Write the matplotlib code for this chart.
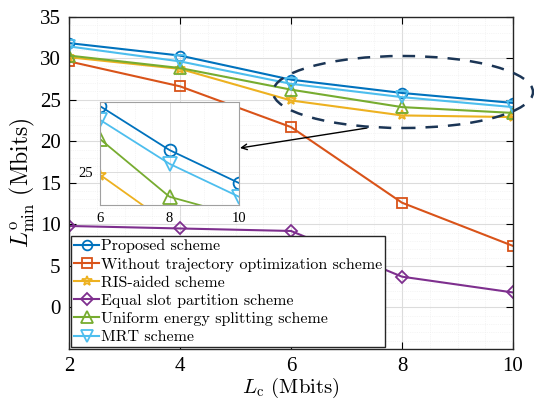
import matplotlib
matplotlib.use('Agg')
import matplotlib.pyplot as plt
from matplotlib.patches import Ellipse
import numpy as np

plt.rcParams['mathtext.fontset'] = 'cm'
plt.rcParams['font.family'] = ['Liberation Serif', 'DejaVu Serif']
plt.rcParams['axes.formatter.use_mathtext'] = False

Lc = [2, 4, 6, 8, 10]
proposed = [31.8, 30.3, 27.4, 25.8, 24.6]
no_traj = [29.6, 26.6, 21.7, 12.6, 7.4]
ris = [30.1, 28.7, 24.9, 23.1, 22.9]
equal_slot = [9.8, 9.5, 9.2, 3.7, 1.8]
uniform = [30.3, 28.8, 26.2, 24.1, 23.4]
mrt = [31.4, 29.6, 26.9, 25.3, 24.1]

labels = ['Proposed scheme', 'Without trajectory optimization scheme', 'RIS-aided scheme',
          'Equal slot partition scheme', 'Uniform energy splitting scheme', 'MRT scheme']
series = [proposed, no_traj, ris, equal_slot, uniform, mrt]
colors = ['#0072BD', '#D95319', '#EDB120', '#7E2F8E', '#77AC30', '#4DBEEE']
markers = ['o', 's', '*', 'D', '^', 'v']
msizes = [7, 6.5, 7, 6.5, 8, 8]

fig = plt.figure(figsize=(5.34, 4.07), dpi=100)
ax = fig.add_axes([69/534, 1-349/407, 444/534, 332.5/407])

for y, lab, c, m, ms in zip(series, labels, colors, markers, msizes):
    ax.plot(Lc, y, color=c, marker=m, markersize=ms, markerfacecolor='none',
            markeredgewidth=1.3, linewidth=1.5, label=lab)

ax.set_xlim(2, 10)
ax.set_ylim(-5, 35)
ax.set_xticks([2, 4, 6, 8, 10])
ax.set_yticks([0, 5, 10, 15, 20, 25, 30, 35])
ax.minorticks_on()
ax.grid(True, which='major', color='#dcdcdc', linewidth=0.8)
ax.grid(True, which='minor', color='#ececec', linewidth=0.5, linestyle=':')
ax.tick_params(which='both', direction='in', top=True, right=True, labelsize=15)
ax.tick_params(which='minor', length=0)
ax.tick_params(which='major', length=5, pad=6)
for s in ax.spines.values():
    s.set_linewidth(1.0)
    s.set_color('#262626')
ax.set_axisbelow(True)

ax.set_xlabel(r'$L_{\rm c}$ (Mbits)', fontsize=15, family='cmr10', labelpad=0)
ax.set_ylabel(r'$L^{\rm o}_{\rm min}$ (Mbits)', fontsize=17, family='cmr10', labelpad=2)

leg = ax.legend(loc='lower left', bbox_to_anchor=(0.0, 0.0),
                prop={'family': 'cmr10', 'size': 11.5}, fancybox=False, framealpha=1,
                edgecolor='#262626', handlelength=1.6, handletextpad=0.1,
                borderpad=0.2, labelspacing=0.25, borderaxespad=0.1)
leg.get_frame().set_linewidth(1.0)

# dashed ellipse around the zoomed region
ell = Ellipse((403/534, 1-92/407), width=260/534, height=72/407, transform=fig.transFigure,
              fill=False, linestyle=(0, (5, 4)), linewidth=1.8, edgecolor='#1b3555', clip_on=False)
fig.patches.append(ell)
ax.annotate('', xy=(240/534, 1-148/407), xytext=(367/534, 1-128/407),
            xycoords='figure fraction', textcoords='figure fraction',
            arrowprops=dict(arrowstyle='->', color='black', lw=1.0, shrinkA=0, shrinkB=0))

# inset
ins = fig.add_axes([100/534, 1-205/407, 139/534, 103/407])
for y, c, m, ms in zip(series, colors, markers, msizes):
    ins.plot(Lc, y, color=c, marker=m, markersize=ms + 1.5, markerfacecolor='none',
             markeredgewidth=1.3, linewidth=1.3)
ins.set_xlim(6, 10)
ins.set_ylim(23.8, 27.55)
ins.set_xticks([6, 8, 10])
ins.set_yticks([25])
ins.minorticks_on()
ins.grid(True, which='major', color='#dcdcdc', linewidth=0.7)
ins.grid(True, which='minor', color='#ececec', linewidth=0.5, linestyle=':')
ins.tick_params(which='both', direction='in', labelsize=10.5, length=0, pad=5)
for s in ins.spines.values():
    s.set_color('#a0a0a0')
    s.set_linewidth(0.8)
ins.set_facecolor('white')

fig.savefig('out.png', dpi=100)
